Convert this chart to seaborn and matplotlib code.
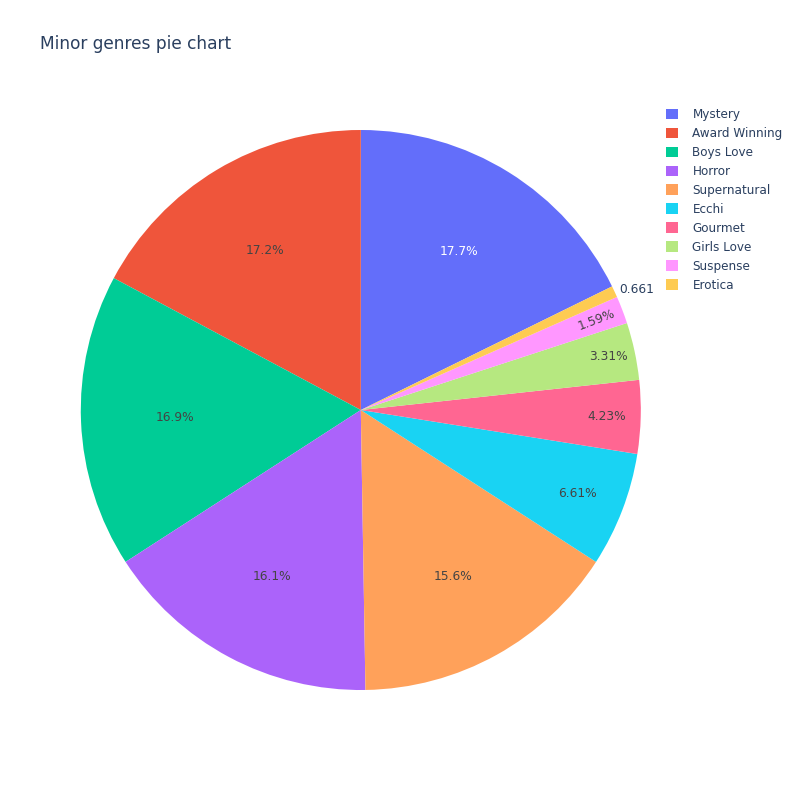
import matplotlib
matplotlib.use("Agg")
import matplotlib.pyplot as plt
from matplotlib.patches import Patch
import seaborn as sns
import numpy as np

# data (counts read back from the shown percentages)
genres = ["Mystery", "Award Winning", "Boys Love", "Horror", "Supernatural",
          "Ecchi", "Gourmet", "Girls Love", "Suspense", "Erotica"]
counts = [134, 130, 128, 122, 118, 50, 32, 25, 12, 5]
colors = ["#636EFA", "#EF553B", "#00CC96", "#AB63FA", "#FFA15A",
          "#19D3F3", "#FF6692", "#B6E880", "#FF97FF", "#FECB52"]

# label styling
label_radius = [0.665, 0.665, 0.665, 0.675, 0.68, 0.83, 0.88, 0.905, 0.9, 1.02]
label_inside = [True] * 9 + [False]
label_rotate = [False] * 8 + [True, False]


def text_color(hex_color):
    r, g, b = (int(hex_color[i:i + 2], 16) for i in (1, 3, 5))
    bright = (r * 299 + g * 587 + b * 114) / 1000
    return "#444444" if bright >= 128 else "white"


def plot_pie():
    sns.set_style("white")
    plt.rcParams["font.family"] = ["DejaVu Sans"]
    palette = sns.color_palette(colors)

    fig = plt.figure(figsize=(8, 8), dpi=100)
    ax = fig.add_axes([0.101, 0.1375, 0.7, 0.7])

    total = sum(counts)
    start = 90 - 360 * counts[0] / total
    wedges, _ = ax.pie(counts, colors=palette, startangle=start, counterclock=True,
                       radius=1, wedgeprops=dict(linewidth=0))

    for i, w in enumerate(wedges):
        mid = np.deg2rad((w.theta1 + w.theta2) / 2)
        r = label_radius[i]
        x, y = r * np.cos(mid), r * np.sin(mid)
        pct = 100 * counts[i] / total
        if label_inside[i]:
            rot = np.rad2deg(mid) if label_rotate[i] else 0
            ax.text(x, y, f"{pct:.3g}%", ha="center", va="center", fontsize=8.8,
                    color=text_color(colors[i]), rotation=rot, rotation_mode="anchor")
        else:
            ax.text(x, y, f"{pct:.3g}", ha="left", va="center", fontsize=8.8,
                    color="#2a3f5f")

    ax.set_xlim(-1, 1)
    ax.set_ylim(-1, 1)
    ax.set_aspect("equal")
    ax.axis("off")

    fig.text(40 / 800, 1 - 44 / 800, "Minor genres pie chart", ha="left", va="center",
             fontsize=12.24, color="#2a3f5f")

    handles = [Patch(facecolor=c, edgecolor="none") for c in colors]
    fig.legend(handles, genres, loc="upper left", bbox_to_anchor=(0.8325, 0.8648),
               frameon=False, fontsize=8.64, handlelength=1.0, handleheight=1.0,
               labelspacing=0.495, handletextpad=1.2, borderpad=0, borderaxespad=0,
               labelcolor="#2a3f5f")

    fig.savefig("out.png", dpi=100, facecolor="white")


def main():
    plot_pie()


if __name__ == "__main__":
    main()
